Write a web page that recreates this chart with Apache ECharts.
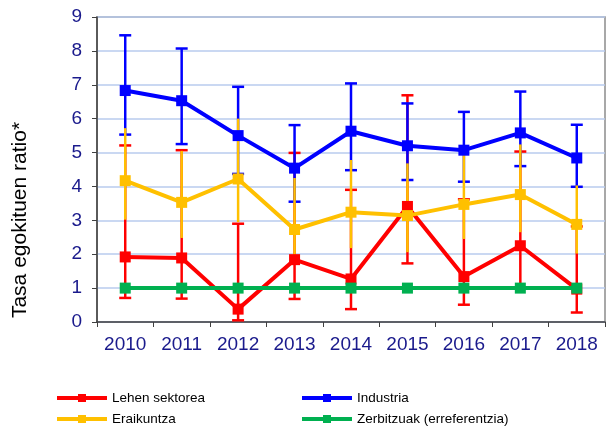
<!DOCTYPE html>
<html>
<head>
<meta charset="utf-8">
<script src="https://cdn.jsdelivr.net/npm/echarts@6/dist/echarts.min.js"></script>
<style>
html, body { margin: 0; padding: 0; background: #fff; }
#main { width: 608px; height: 427px; }
</style>
</head>
<body>
<div id="main"></div>
<script>
const years = ['2010', '2011', '2012', '2013', '2014', '2015', '2016', '2017', '2018'];

const lehen = [1.92, 1.89, 0.38, 1.84, 1.27, 3.41, 1.34, 2.25, 0.97];
const lehenLow = [0.71, 0.69, 0.05, 0.68, 0.38, 1.73, 0.51, 1.0, 0.28];
const lehenHigh = [5.21, 5.07, 2.9, 4.99, 3.9, 6.69, 3.62, 5.03, 2.82];

const industria = [6.83, 6.53, 5.5, 4.54, 5.63, 5.2, 5.07, 5.58, 4.84];
const industriaLow = [5.53, 5.25, 4.37, 3.55, 4.48, 4.19, 4.14, 4.6, 3.99];
const industriaHigh = [8.46, 8.07, 6.94, 5.81, 7.04, 6.45, 6.2, 6.8, 5.82];

const eraikuntza = [4.17, 3.53, 4.22, 2.73, 3.24, 3.14, 3.47, 3.76, 2.88];
const eraikuntzaLow = [3.02, 2.48, 2.95, 1.95, 2.18, 2.06, 2.45, 2.65, 2.02];
const eraikuntzaHigh = [5.72, 5.05, 6.0, 4.25, 4.78, 4.68, 4.93, 5.24, 4.03];

const zerbitzuak = [1, 1, 1, 1, 1, 1, 1, 1, 1];

const yTicks = [0, 1, 2, 3, 4, 5, 6, 7, 8, 9];

const RED = '#ff0000', BLUE = '#0000ff', YELLOW = '#ffc000', GREEN = '#00b050';

function errData(low, high) {
    return years.map((y, i) => [i, low[i], high[i]]);
}

function errRender(color, cap) {
    return function (params, api) {
        const lo = api.coord([api.value(0), api.value(1)]);
        const hi = api.coord([api.value(0), api.value(2)]);
        const style = { stroke: color, lineWidth: 2.5 };
        const children = [{
            type: 'line',
            shape: { x1: lo[0], y1: lo[1], x2: hi[0], y2: hi[1] },
            style: style
        }];
        if (cap) {
            children.push({
                type: 'line',
                shape: { x1: lo[0] - 6, y1: lo[1], x2: lo[0] + 6, y2: lo[1] },
                style: style
            });
            children.push({
                type: 'line',
                shape: { x1: hi[0] - 6, y1: hi[1], x2: hi[0] + 6, y2: hi[1] },
                style: style
            });
        }
        return { type: 'group', children: children };
    };
}

function lineSeries(name, data, color, z) {
    return {
        name: name,
        type: 'line',
        data: data,
        z: z,
        symbol: 'rect',
        symbolSize: 11,
        lineStyle: { color: color, width: 4 },
        itemStyle: { color: color },
        emphasis: { disabled: true },
        animation: false
    };
}

function errSeries(low, high, color, cap, z) {
    return {
        type: 'custom',
        data: errData(low, high),
        renderItem: errRender(color, cap),
        z: z,
        silent: true,
        animation: false,
        encode: { x: 0, y: [1, 2] }
    };
}

function legendItem(name, left, top) {
    return {
        data: [name],
        left: left, top: top,
        padding: 0,
        itemWidth: 50, itemHeight: 10, itemGap: 4,
        lineStyle: { width: 4 },
        textStyle: { color: '#000', fontFamily: 'Liberation Sans', fontSize: 13.5 },
        selectedMode: false
    };
}

const chart = echarts.init(document.getElementById('main'));
const option = {
    animation: false,
    grid: {
        left: 97, right: 3, top: 17, bottom: 105,
        show: true,
        borderColor: '#8c8c8c',
        borderWidth: 1.5
    },
    xAxis: {
        type: 'category',
        data: years,
        boundaryGap: true,
        axisLine: { lineStyle: { color: '#404040', width: 1.5 } },
        axisTick: { show: true, length: 5, inside: false, lineStyle: { color: '#404040', width: 1 } },
        axisLabel: {
            color: '#1a1a8c',
            fontFamily: 'Liberation Sans',
            fontSize: 19,
            margin: 13
        }
    },
    yAxis: {
        type: 'value',
        min: yTicks[0],
        max: yTicks[yTicks.length - 1],
        interval: 1,
        axisLine: { show: true, lineStyle: { color: '#404040', width: 1.5 } },
        axisTick: { show: true, length: 5, lineStyle: { color: '#404040', width: 1 } },
        axisLabel: {
            color: '#1a1a8c',
            fontFamily: 'Liberation Sans',
            fontSize: 19,
            margin: 15
        },
        splitLine: { lineStyle: { color: '#b9cbee', width: 1.5 } }
    },
    legend: [
        legendItem('Lehen sektorea', 55, 391),
        legendItem('Eraikuntza', 55, 412),
        legendItem('Industria', 300, 391),
        legendItem('Zerbitzuak (erreferentzia)', 300, 412)
    ],
    graphic: [{
        type: 'text',
        x: 10, y: 220,
        rotation: Math.PI / 2,
        style: {
            text: 'Tasa egokituen ratio*',
            fill: '#000',
            font: '21px "Liberation Sans"',
            align: 'center',
            verticalAlign: 'top'
        }
    }],
    series: [
        errSeries(lehenLow, lehenHigh, RED, true, 2),
        errSeries(industriaLow, industriaHigh, BLUE, true, 3),
        errSeries(eraikuntzaLow, eraikuntzaHigh, YELLOW, false, 4),
        lineSeries('Lehen sektorea', lehen, RED, 5),
        lineSeries('Eraikuntza', eraikuntza, YELLOW, 6),
        lineSeries('Industria', industria, BLUE, 7),
        lineSeries('Zerbitzuak (erreferentzia)', zerbitzuak, GREEN, 8)
    ]
};
chart.setOption(option);
</script>
</body>
</html>
